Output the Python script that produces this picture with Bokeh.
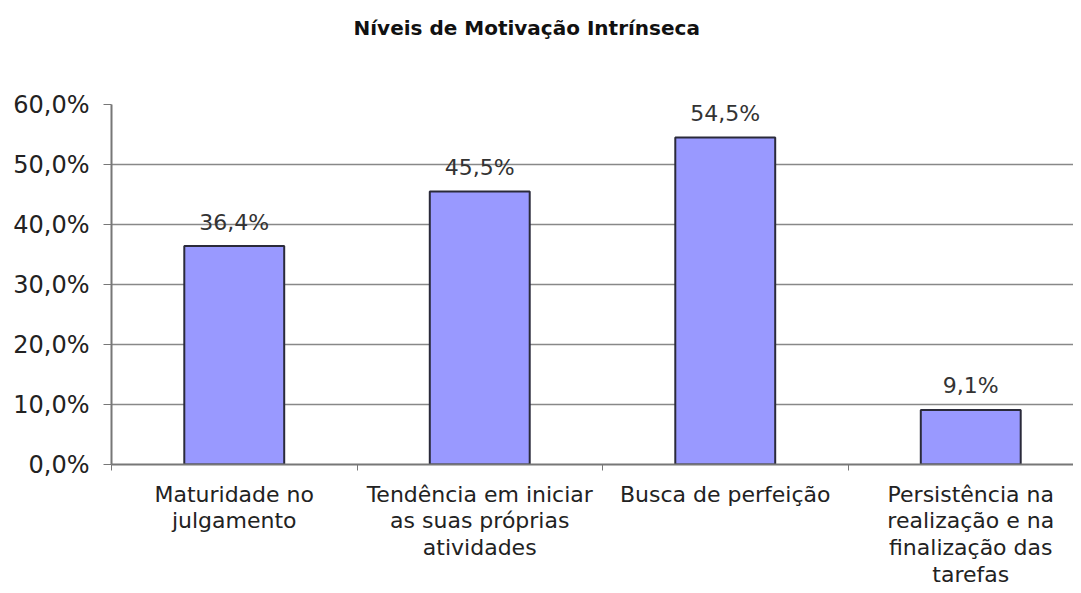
from bokeh.plotting import figure
from bokeh.models import FixedTicker, Range1d, LabelSet, ColumnDataSource, Title
from bokeh.embed import file_html
from bokeh.resources import INLINE
from bokeh.core.properties import value

categories = ["Maturidade no\njulgamento",
              "Tendência em iniciar\nas suas próprias\natividades",
              "Busca de perfeição",
              "Persistência na\nrealização e na\nfinalização das\ntarefas"]
values = [0.364, 0.455, 0.545, 0.091]
value_labels = ["36,4%", "45,5%", "54,5%", "9,1%"]
y_ticks = [0.0, 0.1, 0.2, 0.3, 0.4, 0.5, 0.6]
y_tick_labels = ["0,0%", "10,0%", "20,0%", "30,0%", "40,0%", "50,0%", "60,0%"]
title_text = "Níveis de Motivação Intrínseca"

FONT = "DejaVu Sans"
FW = 962
left, top = 111, 104
frame_h = 360
bottom = 121
cat_px = 245.5
x_end = FW / cat_px

xs = [i + 0.5 for i in range(len(values))]
src = ColumnDataSource(dict(x=xs, top=values, lab=value_labels))

p = figure(frame_width=FW, frame_height=frame_h, output_backend="svg",
           toolbar_location=None,
           x_range=Range1d(0, x_end), y_range=Range1d(0, 0.6),
           min_border_left=left, min_border_right=0, min_border_top=top,
           min_border_bottom=bottom)
p.outline_line_color = None
p.background_fill_color = "white"
p.border_fill_color = "white"

p.vbar(x="x", top="top", width=0.407, bottom=0, source=src,
       fill_color="#9999FF", line_color="#2a2a3a", line_width=2)
labels = LabelSet(x="x", y="top", text="lab", source=src, text_align="center",
                  text_baseline="middle", y_offset=24, text_font=value(FONT),
                  text_font_size="22px", text_color="#333333")
p.add_layout(labels)

# axes
p.xaxis.ticker = FixedTicker(ticks=xs, minor_ticks=list(range(len(values) + 1)))
p.xaxis.major_label_overrides = {x: c for x, c in zip(xs, categories)}
p.xaxis.major_tick_out = 0
p.xaxis.major_tick_in = 0
p.xaxis.minor_tick_out = 6
p.xaxis.minor_tick_in = 0
p.xaxis.minor_tick_line_color = "#777777"
p.xaxis.axis_line_color = "#777777"
p.xaxis.axis_line_width = 2
p.xaxis.major_label_standoff = 11
p.xaxis.major_label_text_font = FONT
p.xaxis.major_label_text_font_size = "22px"
p.xaxis.major_label_text_color = "#222222"
p.xaxis.major_label_text_line_height = 1.07
p.xaxis.major_label_text_align = "center"

p.yaxis.ticker = FixedTicker(ticks=y_ticks, minor_ticks=[])
p.yaxis.major_label_overrides = {t: l for t, l in zip(y_ticks, y_tick_labels)}
p.yaxis.major_tick_out = 8
p.yaxis.major_tick_in = 0
p.yaxis.major_tick_line_color = "#777777"
p.yaxis.axis_line_color = "#777777"
p.yaxis.axis_line_width = 2
p.yaxis.major_label_standoff = 14
p.yaxis.major_label_text_font = FONT
p.yaxis.major_label_text_font_size = "24px"
p.yaxis.major_label_text_color = "#222222"

p.xgrid.visible = False
p.ygrid.ticker = FixedTicker(ticks=y_ticks)
p.ygrid.grid_line_color = "#888888"
p.ygrid.grid_line_width = 1.5

p.title = Title(text=title_text + "\n\n", align="left", offset=242,
                vertical_align="top", standoff=30, text_font=FONT,
                text_font_style="bold", text_font_size="20px",
                text_color="#111111")

open("out.html", "w").write(file_html(p, INLINE))
